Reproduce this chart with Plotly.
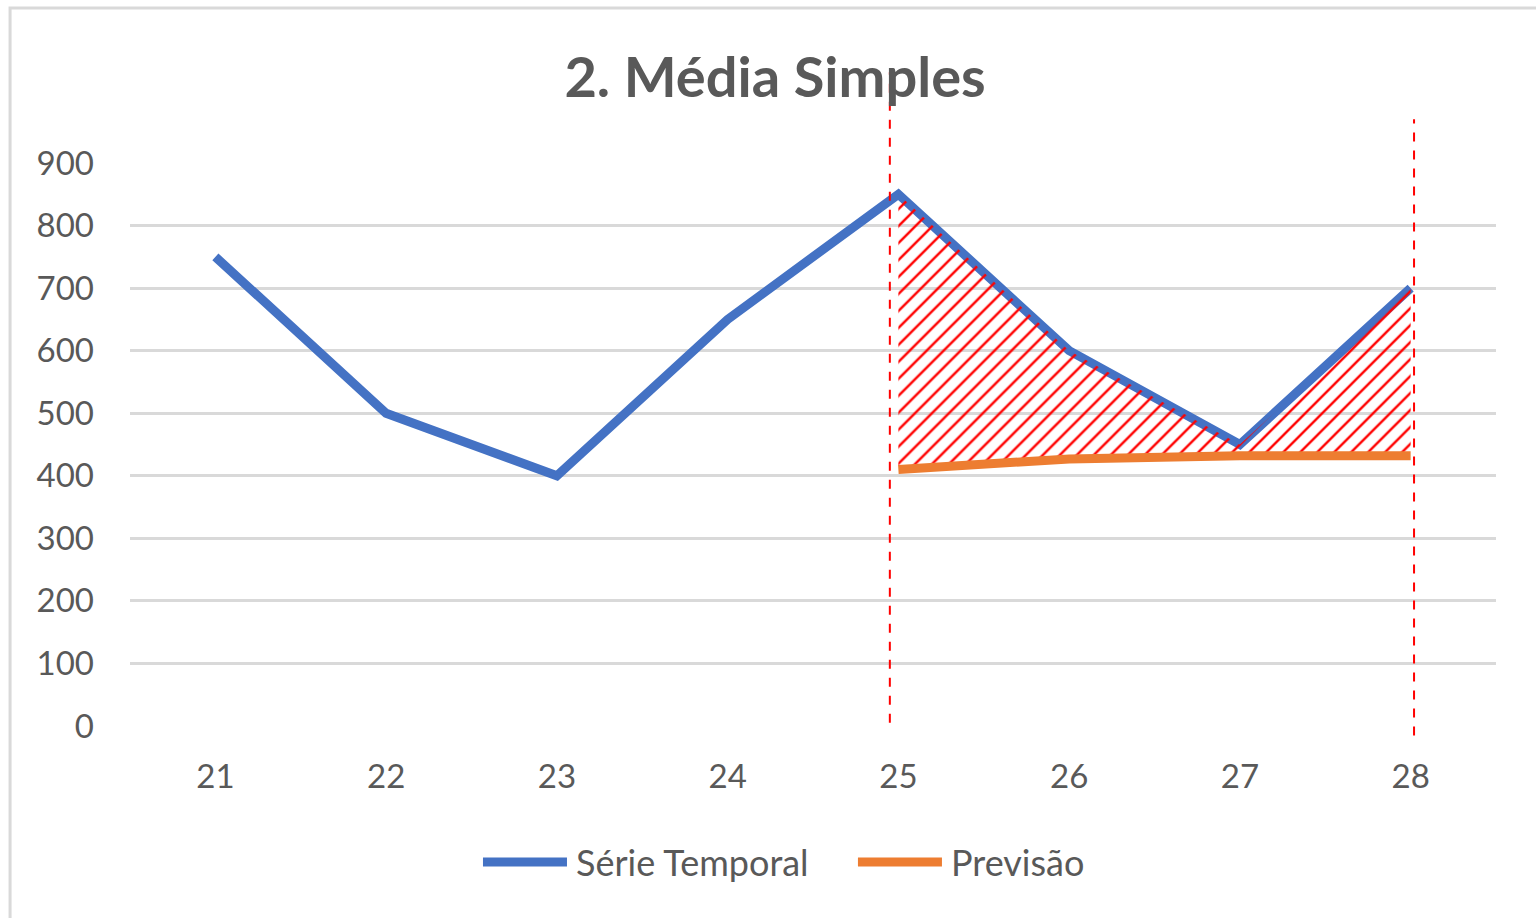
import plotly.graph_objects as go

# Period labels and values
periods = ["21", "22", "23", "24", "25", "26", "27", "28"]
serie_temporal = [750, 500, 400, 650, 850, 600, 450, 700]
forecast_periods = ["25", "26", "27", "28"]
previsao = [410, 427, 432, 432]
y_ticks = [0, 100, 200, 300, 400, 500, 600, 700, 800, 900]

BLUE = "#4472C4"
ORANGE = "#ED7D31"
TEXT = "#595959"
GRID = "#D9D9D9"
FONT = "Lato, 'Open Sans', sans-serif"
Y_MAX = 900

fig = go.Figure()

fig.add_trace(go.Scatter(
    x=periods, y=serie_temporal, mode="lines", name="Série Temporal",
    line=dict(color=BLUE, width=9), showlegend=False,
))
fig.add_trace(go.Scatter(
    x=forecast_periods, y=previsao, mode="lines", name="Previsão",
    line=dict(color=ORANGE, width=9), showlegend=False,
))
# Hand-hatched gap between the series and the forecast
fig.add_trace(go.Scatter(
    x=forecast_periods, y=serie_temporal[4:], mode="lines",
    line=dict(width=0), fill="tonexty", fillcolor="rgba(0,0,0,0)",
    fillpattern=dict(shape="/", fgcolor="red", fgopacity=1, bgcolor="rgba(0,0,0,0)",
                     size=12, solidity=0.2),
    showlegend=False, hoverinfo="skip",
))

# Red dashed markers around the forecast window, allowed to run past the plot top
n = len(periods)
i_start = periods.index(forecast_periods[0])
i_end = periods.index(forecast_periods[-1])
for idx, bottom, top in ((i_start - 0.05, 5, 1045), (i_end + 0.02, -15, 970)):
    xp = (idx + 0.5) / n
    fig.add_shape(type="line", xref="paper", yref="paper", x0=xp, x1=xp,
                  y0=bottom / Y_MAX, y1=top / Y_MAX,
                  line=dict(color="red", width=2, dash="dash"), layer="above")

# Outer chart frame
fig.add_shape(type="rect", xref="paper", yref="paper",
              x0=-0.0878, x1=1.2, y0=-0.6, y1=1.2753,
              line=dict(color=GRID, width=3), layer="below")

# Legend drawn as line swatches with labels
legend_items = [("Série Temporal", BLUE, 0.2584, 0.3199), ("Previsão", ORANGE, 0.5329, 0.5944)]
for label, color, xa, xb in legend_items:
    fig.add_shape(type="line", xref="paper", yref="paper", x0=xa, x1=xb,
                  y0=-0.2416, y1=-0.2416, line=dict(color=color, width=9))
    fig.add_annotation(text=label, xref="paper", yref="paper", x=xb + 0.005, y=-0.2416,
                       xanchor="left", yanchor="middle", showarrow=False,
                       font=dict(size=36, color=TEXT, family=FONT))

fig.update_layout(
    width=1536, height=918,
    margin=dict(l=130, r=40, t=163, b=192),
    paper_bgcolor="white", plot_bgcolor="white",
    font=dict(family=FONT, color=TEXT, size=33),
    title=dict(text="<b>2. Média Simples</b>", xref="container", yref="container",
               x=0.5046, y=0.916, xanchor="center", yanchor="middle",
               font=dict(size=56, color=TEXT, family=FONT)),
    xaxis=dict(type="category", categoryorder="array", categoryarray=periods,
               range=[-0.5, n - 0.5],
               showgrid=False, showline=False, zeroline=False, ticks="",
               ticklabelstandoff=28, tickfont=dict(size=33, color=TEXT)),
    yaxis=dict(range=[0, Y_MAX], tickvals=y_ticks, showgrid=True, gridcolor=GRID,
               gridwidth=3, zeroline=False, showline=False, ticks="",
               ticklabelstandoff=35, tickfont=dict(size=33, color=TEXT)),
    showlegend=False,
)

fig.write_html("out.html")
